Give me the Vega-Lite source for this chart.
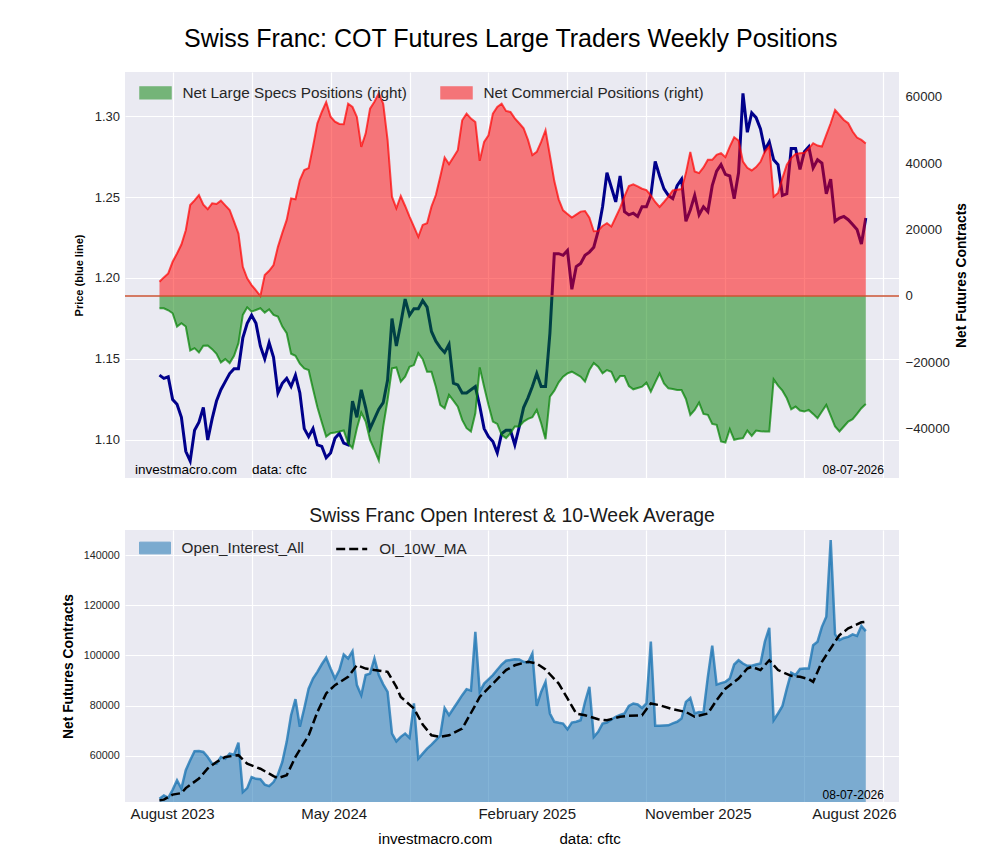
{
  "$schema": "https://vega.github.io/schema/vega-lite/v6.json",
  "background": "white",
  "padding": {"left": 61, "top": 27, "right": 5, "bottom": 5},
  "title": {
    "text": "Swiss Franc: COT Futures Large Traders Weekly Positions",
    "fontSize": 25,
    "fontWeight": "normal",
    "color": "black",
    "anchor": "middle",
    "offset": 20,
    "dx": -4
  },
  "datasets": {
    "w": [
      {"d":"2023-07-04","p":1.140,"s":-3700,"c":4300,"oi":43000},
      {"d":"2023-07-11","p":1.138,"s":-3700,"c":5600,"oi":44300},
      {"d":"2023-07-18","p":1.139,"s":-4300,"c":6800,"oi":43300},
      {"d":"2023-07-25","p":1.125,"s":-5200,"c":10300,"oi":46500},
      {"d":"2023-08-01","p":1.122,"s":-9200,"c":12800,"oi":50300},
      {"d":"2023-08-08","p":1.114,"s":-8200,"c":15500,"oi":47000},
      {"d":"2023-08-15","p":1.093,"s":-9200,"c":19800,"oi":54300},
      {"d":"2023-08-22","p":1.087,"s":-16400,"c":27400,"oi":58300},
      {"d":"2023-08-29","p":1.106,"s":-15700,"c":28800,"oi":61900},
      {"d":"2023-09-05","p":1.111,"s":-17000,"c":30400,"oi":62000},
      {"d":"2023-09-12","p":1.120,"s":-15000,"c":27500,"oi":61600},
      {"d":"2023-09-19","p":1.100,"s":-14900,"c":26100,"oi":59600},
      {"d":"2023-09-26","p":1.113,"s":-16000,"c":27900,"oi":56900},
      {"d":"2023-10-03","p":1.124,"s":-17400,"c":27700,"oi":56900},
      {"d":"2023-10-10","p":1.131,"s":-20000,"c":28700,"oi":59600},
      {"d":"2023-10-17","p":1.136,"s":-19000,"c":27300,"oi":58900},
      {"d":"2023-10-24","p":1.141,"s":-20200,"c":25900,"oi":60900},
      {"d":"2023-10-31","p":1.144,"s":-18000,"c":22400,"oi":60500},
      {"d":"2023-11-07","p":1.144,"s":-14200,"c":18800,"oi":65300},
      {"d":"2023-11-14","p":1.163,"s":-5700,"c":8800,"oi":45600},
      {"d":"2023-11-21","p":1.172,"s":-3400,"c":5300,"oi":47200},
      {"d":"2023-11-28","p":1.177,"s":-4700,"c":3300,"oi":51600},
      {"d":"2023-12-05","p":1.172,"s":-4200,"c":1700,"oi":50900},
      {"d":"2023-12-12","p":1.158,"s":-3700,"c":0,"oi":50700},
      {"d":"2023-12-19","p":1.150,"s":-5000,"c":6300,"oi":48600},
      {"d":"2023-12-26","p":1.160,"s":-4000,"c":7600,"oi":48000},
      {"d":"2024-01-02","p":1.151,"s":-5700,"c":9300,"oi":49600},
      {"d":"2024-01-09","p":1.129,"s":-6200,"c":14800,"oi":52600},
      {"d":"2024-01-16","p":1.135,"s":-9200,"c":19000,"oi":57600},
      {"d":"2024-01-23","p":1.138,"s":-11200,"c":22900,"oi":65600},
      {"d":"2024-01-30","p":1.133,"s":-17400,"c":29400,"oi":76200},
      {"d":"2024-02-06","p":1.140,"s":-18000,"c":29100,"oi":82600},
      {"d":"2024-02-13","p":1.129,"s":-20400,"c":34900,"oi":71600},
      {"d":"2024-02-20","p":1.107,"s":-21800,"c":37900,"oi":78900},
      {"d":"2024-02-27","p":1.102,"s":-22300,"c":38500,"oi":86800},
      {"d":"2024-03-05","p":1.107,"s":-28000,"c":45000,"oi":90800},
      {"d":"2024-03-12","p":1.097,"s":-33500,"c":52000,"oi":93500},
      {"d":"2024-03-19","p":1.096,"s":-38000,"c":55400,"oi":96500},
      {"d":"2024-03-26","p":1.089,"s":-42300,"c":58400,"oi":99100},
      {"d":"2024-04-02","p":1.092,"s":-41300,"c":54000,"oi":94800},
      {"d":"2024-04-09","p":1.101,"s":-41100,"c":52500,"oi":90800},
      {"d":"2024-04-16","p":1.104,"s":-40800,"c":51800,"oi":94200},
      {"d":"2024-04-23","p":1.098,"s":-40500,"c":51700,"oi":100400},
      {"d":"2024-04-30","p":1.097,"s":-44300,"c":57900,"oi":98800},
      {"d":"2024-05-07","p":1.124,"s":-45800,"c":56900,"oi":101700},
      {"d":"2024-05-14","p":1.114,"s":-39800,"c":53900,"oi":88200},
      {"d":"2024-05-21","p":1.131,"s":-35100,"c":44900,"oi":84200},
      {"d":"2024-05-28","p":1.120,"s":-37800,"c":48900,"oi":92200},
      {"d":"2024-06-04","p":1.107,"s":-43300,"c":56400,"oi":92800},
      {"d":"2024-06-11","p":1.113,"s":-46300,"c":58500,"oi":98800},
      {"d":"2024-06-18","p":1.119,"s":-49500,"c":61000,"oi":92200},
      {"d":"2024-06-25","p":1.123,"s":-39300,"c":57900,"oi":88500},
      {"d":"2024-07-02","p":1.137,"s":-31300,"c":46900,"oi":85500},
      {"d":"2024-07-09","p":1.175,"s":-21800,"c":29900,"oi":68900},
      {"d":"2024-07-16","p":1.158,"s":-21500,"c":26400,"oi":65800},
      {"d":"2024-07-23","p":1.172,"s":-25800,"c":30100,"oi":67600},
      {"d":"2024-07-30","p":1.187,"s":-24300,"c":27100,"oi":68900},
      {"d":"2024-08-06","p":1.177,"s":-21300,"c":23900,"oi":67200},
      {"d":"2024-08-13","p":1.181,"s":-20800,"c":20900,"oi":80900},
      {"d":"2024-08-20","p":1.181,"s":-17200,"c":17800,"oi":58900},
      {"d":"2024-08-27","p":1.186,"s":-19000,"c":21400,"oi":60900},
      {"d":"2024-09-03","p":1.182,"s":-22800,"c":21900,"oi":62900},
      {"d":"2024-09-10","p":1.167,"s":-22800,"c":26900,"oi":64500},
      {"d":"2024-09-17","p":1.161,"s":-27300,"c":30400,"oi":66300},
      {"d":"2024-09-24","p":1.157,"s":-32800,"c":35900,"oi":68200},
      {"d":"2024-10-01","p":1.154,"s":-33800,"c":41700,"oi":79100},
      {"d":"2024-10-08","p":1.159,"s":-29800,"c":39700,"oi":76200},
      {"d":"2024-10-15","p":1.135,"s":-31500,"c":41800,"oi":78900},
      {"d":"2024-10-22","p":1.134,"s":-33300,"c":43900,"oi":81500},
      {"d":"2024-10-29","p":1.129,"s":-37300,"c":52900,"oi":84200},
      {"d":"2024-11-05","p":1.129,"s":-39800,"c":54900,"oi":86600},
      {"d":"2024-11-12","p":1.131,"s":-40800,"c":53400,"oi":86000},
      {"d":"2024-11-19","p":1.133,"s":-35300,"c":52400,"oi":109400},
      {"d":"2024-11-26","p":1.121,"s":-21500,"c":40700,"oi":85500},
      {"d":"2024-12-03","p":1.107,"s":-27300,"c":46400,"oi":88800},
      {"d":"2024-12-10","p":1.102,"s":-32800,"c":48400,"oi":90500},
      {"d":"2024-12-17","p":1.099,"s":-37800,"c":54900,"oi":92200},
      {"d":"2024-12-24","p":1.092,"s":-38500,"c":56900,"oi":94300},
      {"d":"2024-12-31","p":1.104,"s":-41800,"c":57900,"oi":96400},
      {"d":"2025-01-07","p":1.106,"s":-42800,"c":55700,"oi":97900},
      {"d":"2025-01-14","p":1.106,"s":-41300,"c":55400,"oi":98200},
      {"d":"2025-01-21","p":1.097,"s":-39300,"c":53500,"oi":98500},
      {"d":"2025-01-28","p":1.108,"s":-39300,"c":52000,"oi":98400},
      {"d":"2025-02-04","p":1.120,"s":-37800,"c":50500,"oi":97500},
      {"d":"2025-02-11","p":1.126,"s":-37000,"c":47000,"oi":97200},
      {"d":"2025-02-18","p":1.133,"s":-36500,"c":42400,"oi":100800},
      {"d":"2025-02-25","p":1.141,"s":-34300,"c":43400,"oi":79900},
      {"d":"2025-03-04","p":1.133,"s":-38300,"c":46400,"oi":85500},
      {"d":"2025-03-11","p":1.133,"s":-43100,"c":49900,"oi":89500},
      {"d":"2025-03-18","p":1.166,"s":-30300,"c":42300,"oi":76900},
      {"d":"2025-03-25","p":1.215,"s":-28500,"c":34600,"oi":73600},
      {"d":"2025-04-01","p":1.215,"s":-26000,"c":29100,"oi":73200},
      {"d":"2025-04-08","p":1.214,"s":-24300,"c":25800,"oi":72900},
      {"d":"2025-04-15","p":1.217,"s":-23300,"c":24700,"oi":70600},
      {"d":"2025-04-22","p":1.193,"s":-22800,"c":23600,"oi":73300},
      {"d":"2025-04-29","p":1.207,"s":-23500,"c":24500,"oi":73600},
      {"d":"2025-05-06","p":1.209,"s":-24300,"c":25400,"oi":74200},
      {"d":"2025-05-13","p":1.214,"s":-25800,"c":25600,"oi":81500},
      {"d":"2025-05-20","p":1.216,"s":-22300,"c":23600,"oi":87500},
      {"d":"2025-05-27","p":1.219,"s":-20200,"c":19500,"oi":67600},
      {"d":"2025-06-03","p":1.229,"s":-21300,"c":19600,"oi":69600},
      {"d":"2025-06-10","p":1.244,"s":-23300,"c":21100,"oi":72900},
      {"d":"2025-06-17","p":1.265,"s":-22300,"c":21900,"oi":73300},
      {"d":"2025-06-24","p":1.256,"s":-22800,"c":20900,"oi":74500},
      {"d":"2025-07-01","p":1.247,"s":-25800,"c":23700,"oi":75600},
      {"d":"2025-07-08","p":1.263,"s":-24100,"c":26500,"oi":76300},
      {"d":"2025-07-15","p":1.241,"s":-24100,"c":30000,"oi":76900},
      {"d":"2025-07-22","p":1.239,"s":-27100,"c":33100,"oi":79900},
      {"d":"2025-07-29","p":1.240,"s":-28100,"c":33600,"oi":80900},
      {"d":"2025-08-05","p":1.238,"s":-27700,"c":33000,"oi":80500},
      {"d":"2025-08-12","p":1.244,"s":-27300,"c":32300,"oi":79100},
      {"d":"2025-08-19","p":1.244,"s":-26100,"c":31900,"oi":80900},
      {"d":"2025-08-26","p":1.251,"s":-28800,"c":30300,"oi":105500},
      {"d":"2025-09-02","p":1.272,"s":-26000,"c":28300,"oi":72000},
      {"d":"2025-09-09","p":1.263,"s":-23300,"c":26800,"oi":72000},
      {"d":"2025-09-16","p":1.255,"s":-26300,"c":28300,"oi":72100},
      {"d":"2025-09-23","p":1.251,"s":-27800,"c":29900,"oi":72200},
      {"d":"2025-09-30","p":1.249,"s":-28000,"c":31800,"oi":73000},
      {"d":"2025-10-07","p":1.257,"s":-28300,"c":32000,"oi":73600},
      {"d":"2025-10-14","p":1.261,"s":-28300,"c":32200,"oi":74900},
      {"d":"2025-10-21","p":1.235,"s":-31000,"c":37000,"oi":81500},
      {"d":"2025-10-28","p":1.242,"s":-35800,"c":43400,"oi":83100},
      {"d":"2025-11-04","p":1.251,"s":-34300,"c":37500,"oi":76900},
      {"d":"2025-11-11","p":1.239,"s":-32100,"c":37000,"oi":77500},
      {"d":"2025-11-18","p":1.244,"s":-35500,"c":38700,"oi":77300},
      {"d":"2025-11-25","p":1.241,"s":-35800,"c":41000,"oi":91500},
      {"d":"2025-12-02","p":1.257,"s":-38500,"c":41000,"oi":103900},
      {"d":"2025-12-09","p":1.266,"s":-38800,"c":42500,"oi":88400},
      {"d":"2025-12-16","p":1.270,"s":-43800,"c":43000,"oi":89000},
      {"d":"2025-12-23","p":1.264,"s":-44100,"c":41800,"oi":89500},
      {"d":"2025-12-30","p":1.263,"s":-40100,"c":45000,"oi":90800},
      {"d":"2026-01-06","p":1.249,"s":-43300,"c":47800,"oi":96400},
      {"d":"2026-01-13","p":1.265,"s":-43000,"c":46800,"oi":98100},
      {"d":"2026-01-20","p":1.314,"s":-42800,"c":40500,"oi":96800},
      {"d":"2026-01-27","p":1.290,"s":-40500,"c":38600,"oi":95900},
      {"d":"2026-02-03","p":1.302,"s":-42100,"c":37800,"oi":95900},
      {"d":"2026-02-10","p":1.299,"s":-40500,"c":38800,"oi":96400},
      {"d":"2026-02-17","p":1.292,"s":-40700,"c":40400,"oi":96800},
      {"d":"2026-02-24","p":1.279,"s":-40800,"c":43500,"oi":105500},
      {"d":"2026-03-03","p":1.284,"s":-40800,"c":45000,"oi":111000},
      {"d":"2026-03-10","p":1.273,"s":-25100,"c":29900,"oi":74200},
      {"d":"2026-03-17","p":1.270,"s":-27000,"c":31000,"oi":76900},
      {"d":"2026-03-24","p":1.251,"s":-28500,"c":35500,"oi":79900},
      {"d":"2026-03-31","p":1.252,"s":-30800,"c":39500,"oi":86800},
      {"d":"2026-04-07","p":1.280,"s":-34100,"c":41500,"oi":93200},
      {"d":"2026-04-14","p":1.280,"s":-33300,"c":42800,"oi":92200},
      {"d":"2026-04-21","p":1.267,"s":-34500,"c":43000,"oi":94600},
      {"d":"2026-04-28","p":1.278,"s":-34800,"c":43100,"oi":94800},
      {"d":"2026-05-05","p":1.281,"s":-34300,"c":44400,"oi":94800},
      {"d":"2026-05-12","p":1.268,"s":-35500,"c":46000,"oi":104100},
      {"d":"2026-05-19","p":1.273,"s":-36800,"c":45300,"oi":105500},
      {"d":"2026-05-26","p":1.271,"s":-34800,"c":45000,"oi":111400},
      {"d":"2026-06-02","p":1.252,"s":-32800,"c":48500,"oi":115400},
      {"d":"2026-06-09","p":1.261,"s":-36000,"c":52000,"oi":146000},
      {"d":"2026-06-16","p":1.235,"s":-39300,"c":56000,"oi":108400},
      {"d":"2026-06-23","p":1.237,"s":-40800,"c":54500,"oi":106100},
      {"d":"2026-06-30","p":1.238,"s":-39300,"c":53000,"oi":107000},
      {"d":"2026-07-07","p":1.236,"s":-37800,"c":52000,"oi":107400},
      {"d":"2026-07-14","p":1.233,"s":-37100,"c":49500,"oi":108400},
      {"d":"2026-07-21","p":1.230,"s":-35500,"c":47700,"oi":107800},
      {"d":"2026-07-28","p":1.221,"s":-33800,"c":47000,"oi":111800},
      {"d":"2026-08-04","p":1.237,"s":-32500,"c":45900,"oi":109700}
    ],
    "ma": [
      {"d":"2023-07-04","ma":42300},
      {"d":"2023-07-11","ma":42600},
      {"d":"2023-07-25","ma":44600},
      {"d":"2023-08-08","ma":45200},
      {"d":"2023-08-15","ma":47200},
      {"d":"2023-09-05","ma":51000},
      {"d":"2023-09-19","ma":55000},
      {"d":"2023-10-03","ma":57600},
      {"d":"2023-10-17","ma":59600},
      {"d":"2023-11-07","ma":60300},
      {"d":"2023-11-21","ma":56900},
      {"d":"2023-12-12","ma":54900},
      {"d":"2024-01-02","ma":52000},
      {"d":"2024-01-09","ma":51200},
      {"d":"2024-01-23","ma":52300},
      {"d":"2024-02-06","ma":59600},
      {"d":"2024-02-27","ma":68200},
      {"d":"2024-03-12","ma":77500},
      {"d":"2024-03-26","ma":84900},
      {"d":"2024-04-09","ma":88200},
      {"d":"2024-04-30","ma":91500},
      {"d":"2024-05-14","ma":96100},
      {"d":"2024-05-28","ma":94800},
      {"d":"2024-06-11","ma":94200},
      {"d":"2024-07-02","ma":93500},
      {"d":"2024-07-16","ma":87500},
      {"d":"2024-07-23","ma":83500},
      {"d":"2024-08-13","ma":78900},
      {"d":"2024-08-27","ma":72500},
      {"d":"2024-09-10","ma":68200},
      {"d":"2024-09-24","ma":67600},
      {"d":"2024-10-08","ma":68200},
      {"d":"2024-10-29","ma":70900},
      {"d":"2024-11-19","ma":80200},
      {"d":"2024-11-26","ma":83500},
      {"d":"2024-12-17","ma":88800},
      {"d":"2025-01-07","ma":94200},
      {"d":"2025-01-21","ma":96100},
      {"d":"2025-02-11","ma":97500},
      {"d":"2025-02-25","ma":96800},
      {"d":"2025-03-11","ma":94400},
      {"d":"2025-04-01","ma":88800},
      {"d":"2025-04-15","ma":82900},
      {"d":"2025-04-29","ma":76900},
      {"d":"2025-05-13","ma":76200},
      {"d":"2025-06-03","ma":74600},
      {"d":"2025-06-17","ma":74200},
      {"d":"2025-07-08","ma":75600},
      {"d":"2025-07-22","ma":76000},
      {"d":"2025-08-12","ma":76200},
      {"d":"2025-08-26","ma":80900},
      {"d":"2025-09-09","ma":80200},
      {"d":"2025-09-30","ma":78600},
      {"d":"2025-10-21","ma":77500},
      {"d":"2025-11-04","ma":75600},
      {"d":"2025-11-25","ma":76900},
      {"d":"2025-12-09","ma":82200},
      {"d":"2025-12-23","ma":86800},
      {"d":"2026-01-13","ma":90800},
      {"d":"2026-01-27","ma":94800},
      {"d":"2026-02-03","ma":95500},
      {"d":"2026-02-17","ma":94200},
      {"d":"2026-03-03","ma":98100},
      {"d":"2026-03-17","ma":94200},
      {"d":"2026-04-07","ma":91900},
      {"d":"2026-04-21","ma":91500},
      {"d":"2026-05-05","ma":90600},
      {"d":"2026-05-12","ma":89500},
      {"d":"2026-05-26","ma":97500},
      {"d":"2026-06-16","ma":105500},
      {"d":"2026-06-23","ma":108100},
      {"d":"2026-07-07","ma":110800},
      {"d":"2026-07-28","ma":113200},
      {"d":"2026-08-04","ma":113400}
    ]
  },
  "spacing": 27,
  "vconcat": [
    {
      "width": 774,
      "height": 406,
      "data": {"name": "w"},
      "layer": [
        {
          "mark": {"type": "line", "color": "#00008b", "strokeWidth": 3},
          "encoding": {
            "x": {
              "field": "d", "type": "temporal",
              "scale": {"domain": [{"year": 2023, "month": 5, "date": 10}, {"year": 2026, "month": 9, "date": 26}]},
              "axis": {
                "title": null, "labels": false, "ticks": false, "domain": false, "grid": true,
                "values": [
                  {"year": 2023, "month": 7, "date": 25}, {"year": 2023, "month": 11, "date": 28},
                  {"year": 2024, "month": 4, "date": 2}, {"year": 2024, "month": 8, "date": 6},
                  {"year": 2024, "month": 12, "date": 10}, {"year": 2025, "month": 4, "date": 15},
                  {"year": 2025, "month": 8, "date": 19}, {"year": 2025, "month": 12, "date": 23},
                  {"year": 2026, "month": 4, "date": 28}, {"year": 2026, "month": 9, "date": 1}
                ]
              }
            },
            "y": {
              "field": "p", "type": "quantitative",
              "scale": {"domain": [1.0765, 1.3272], "zero": false, "nice": false},
              "axis": {
                "title": "Price (blue line)", "values": [1.10, 1.15, 1.20, 1.25, 1.30], "format": ".2f",
                "titleFontSize": 11, "titleFontWeight": "bold", "titlePadding": 10,
                "labelFontSize": 13, "labelPadding": 5.5
              }
            }
          }
        },
        {
          "transform": [{"fold": ["s", "c"], "as": ["k", "v"]}],
          "layer": [
            {
              "mark": {"type": "area", "opacity": 0.5},
              "encoding": {
                "x": {"field": "d", "type": "temporal"},
                "y": {
                  "field": "v", "type": "quantitative", "stack": null,
                  "scale": {"domain": [-54800, 67440], "zero": false, "nice": false},
                  "axis": {
                    "orient": "right", "title": "Net Futures Contracts",
                    "values": [-40000, -20000, 0, 20000, 40000, 60000], "format": "d",
                    "titleFontSize": 13.8, "titleFontWeight": "bold", "titlePadding": 19, "titleAngle": 270,
                    "labelFontSize": 13.2, "labelPadding": 6
                  }
                },
                "y2": {"datum": 0},
                "color": {
                  "field": "k", "type": "nominal",
                  "scale": {"domain": ["s", "c"], "range": ["green", "red"]},
                  "legend": {
                    "orient": "none", "legendX": 14, "legendY": 4, "direction": "horizontal", "columns": 2,
                    "title": null, "padding": 0,
                    "symbolType": "M-1,-0.38H1V0.38H-1Z", "symbolSize": 961, "symbolOpacity": 0.5,
                    "labelFontSize": 15.3, "labelOffset": 10.5, "columnPadding": 31, "labelLimit": 400,
                    "labelExpr": "datum.label == 's' ? 'Net Large Specs Positions (right)' : 'Net Commercial Positions (right)'"
                  }
                }
              }
            },
            {
              "mark": {"type": "line", "strokeWidth": 2, "opacity": 0.7},
              "encoding": {
                "x": {"field": "d", "type": "temporal"},
                "y": {"field": "v", "type": "quantitative"},
                "stroke": {
                  "field": "k", "type": "nominal",
                  "scale": {"domain": ["s", "c"], "range": ["green", "red"]},
                  "legend": null
                }
              }
            },
            {
              "data": {"values": [{"z": 0}]},
              "mark": {"type": "rule", "color": "#cc5533", "strokeWidth": 1.5},
              "encoding": {"y": {"field": "z", "type": "quantitative"}}
            },
            {
              "data": {"values": [{"t": "investmacro.com\u00a0\u00a0\u00a0\u00a0data: cftc"}]},
              "mark": {"type": "text", "align": "left", "baseline": "middle", "fontSize": 13.5, "color": "black"},
              "encoding": {
                "x": {"datum": {"year": 2023, "month": 5, "date": 26}, "type": "temporal"},
                "y": {"datum": -52400, "type": "quantitative"},
                "text": {"field": "t"}
              }
            },
            {
              "data": {"values": [{"t": "08-07-2026"}]},
              "mark": {"type": "text", "align": "right", "baseline": "middle", "fontSize": 12, "color": "black"},
              "encoding": {
                "x": {"datum": {"year": 2026, "month": 9, "date": 2}, "type": "temporal"},
                "y": {"datum": -52400, "type": "quantitative"},
                "text": {"field": "t"}
              }
            }
          ]
        }
      ],
      "resolve": {"scale": {"y": "independent"}}
    },
    {
      "title": {
        "text": "Swiss Franc Open Interest & 10-Week Average",
        "fontSize": 19.4, "fontWeight": "normal", "color": "#1a1a1a", "anchor": "middle", "offset": 4
      },
      "width": 774,
      "height": 272,
      "layer": [
        {
          "data": {"name": "w"},
          "mark": {"type": "area", "opacity": 0.55, "clip": true},
          "encoding": {
            "x": {
              "field": "d", "type": "temporal",
              "scale": {"domain": [{"year": 2023, "month": 5, "date": 10}, {"year": 2026, "month": 9, "date": 26}]},
              "axis": {
                "orient": "bottom", "title": null, "labels": false, "ticks": false, "domain": false, "grid": true,
                "values": [
                  {"year": 2023, "month": 7, "date": 25}, {"year": 2023, "month": 11, "date": 28},
                  {"year": 2024, "month": 4, "date": 2}, {"year": 2024, "month": 8, "date": 6},
                  {"year": 2024, "month": 12, "date": 10}, {"year": 2025, "month": 4, "date": 15},
                  {"year": 2025, "month": 8, "date": 19}, {"year": 2025, "month": 12, "date": 23},
                  {"year": 2026, "month": 4, "date": 28}, {"year": 2026, "month": 9, "date": 1}
                ]
              }
            },
            "y": {
              "field": "oi", "type": "quantitative",
              "scale": {"domain": [41660, 149970], "zero": false, "nice": false},
              "axis": {
                "title": "Net Futures Contracts", "values": [60000, 80000, 100000, 120000, 140000], "format": "d",
                "titleFontSize": 13.8, "titleFontWeight": "bold", "titlePadding": 8,
                "labelFontSize": 10.8, "labelPadding": 5.7
              }
            },
            "y2": {"datum": 0},
            "fill": {
              "datum": "Open_Interest_All",
              "scale": {"range": ["#1f77b4"]},
              "legend": {
                "orient": "none", "legendX": 14, "legendY": 460, "title": null, "padding": 0,
                "symbolType": "M-1,-0.38H1V0.38H-1Z", "symbolSize": 961, "symbolOpacity": 0.55,
                "symbolStrokeColor": "#1f77b4", "symbolStrokeWidth": 1,
                "labelFontSize": 15.3, "labelOffset": 10.5
              }
            }
          }
        },
        {
          "data": {"name": "w"},
          "mark": {"type": "line", "color": "#1f77b4", "strokeWidth": 2.5, "opacity": 0.8},
          "encoding": {
            "x": {"field": "d", "type": "temporal", "axis": null},
            "y": {"field": "oi", "type": "quantitative"}
          }
        },
        {
          "data": {"name": "ma"},
          "mark": {"type": "line", "color": "black", "strokeWidth": 2.5},
          "encoding": {
            "x": {
              "field": "d", "type": "temporal",
              "axis": {
                "orient": "bottom", "grid": false, "ticks": false, "domain": false,
                "values": [
                  {"year": 2023, "month": 7, "date": 24}, {"year": 2024, "month": 4, "date": 7},
                  {"year": 2025, "month": 2, "date": 9}, {"year": 2025, "month": 11, "date": 9},
                  {"year": 2026, "month": 7, "date": 16}
                ],
                "labelExpr": "year(datum.value) == 2023 ? 'August 2023' : year(datum.value) == 2024 ? 'May 2024' : month(datum.value) == 1 ? 'February 2025' : month(datum.value) == 10 ? 'November 2025' : 'August 2026'",
                "labelFontSize": 15, "labelPadding": 4, "labelColor": "#1a1a1a",
                "labelFlush": false, "labelOverlap": false,
                "title": "investmacro.com\u00a0\u00a0\u00a0\u00a0\u00a0\u00a0\u00a0\u00a0\u00a0\u00a0\u00a0\u00a0\u00a0\u00a0\u00a0\u00a0data: cftc",
                "titleFontSize": 15.1, "titleFontWeight": "normal", "titleColor": "black",
                "titleX": 374, "titleY": 41, "titleAlign": "center", "titleBaseline": "alphabetic"
              }
            },
            "y": {"field": "ma", "type": "quantitative"},
            "strokeDash": {
              "datum": "OI_10W_MA",
              "scale": {"range": [[9, 4]]},
              "legend": {
                "orient": "none", "legendX": 209.7, "legendY": 460, "title": null, "padding": 0,
                "symbolType": "stroke", "symbolSize": 961, "symbolStrokeColor": "black", "symbolStrokeWidth": 2.5,
                "labelFontSize": 15.3, "labelOffset": 10.5
              }
            }
          }
        },
        {
          "data": {"values": [{"t": "08-07-2026"}]},
          "mark": {"type": "text", "align": "right", "baseline": "middle", "fontSize": 12, "color": "black"},
          "encoding": {
            "x": {"datum": {"year": 2026, "month": 9, "date": 2}, "type": "temporal", "axis": null},
            "y": {"datum": 44330, "type": "quantitative"},
            "text": {"field": "t"}
          }
        }
      ],
      "resolve": {"axis": {"x": "independent"}}
    }
  ],
  "config": {
    "font": "Liberation Sans",
    "view": {"fill": "#EAEAF2", "stroke": null},
    "axis": {
      "gridColor": "white", "gridWidth": 1.2, "gridOpacity": 1,
      "domain": false, "ticks": false,
      "labelColor": "#262626", "titleColor": "black"
    },
    "legend": {"labelColor": "#262626", "labelFont": "Liberation Sans"},
    "title": {"font": "Liberation Sans"}
  }
}
